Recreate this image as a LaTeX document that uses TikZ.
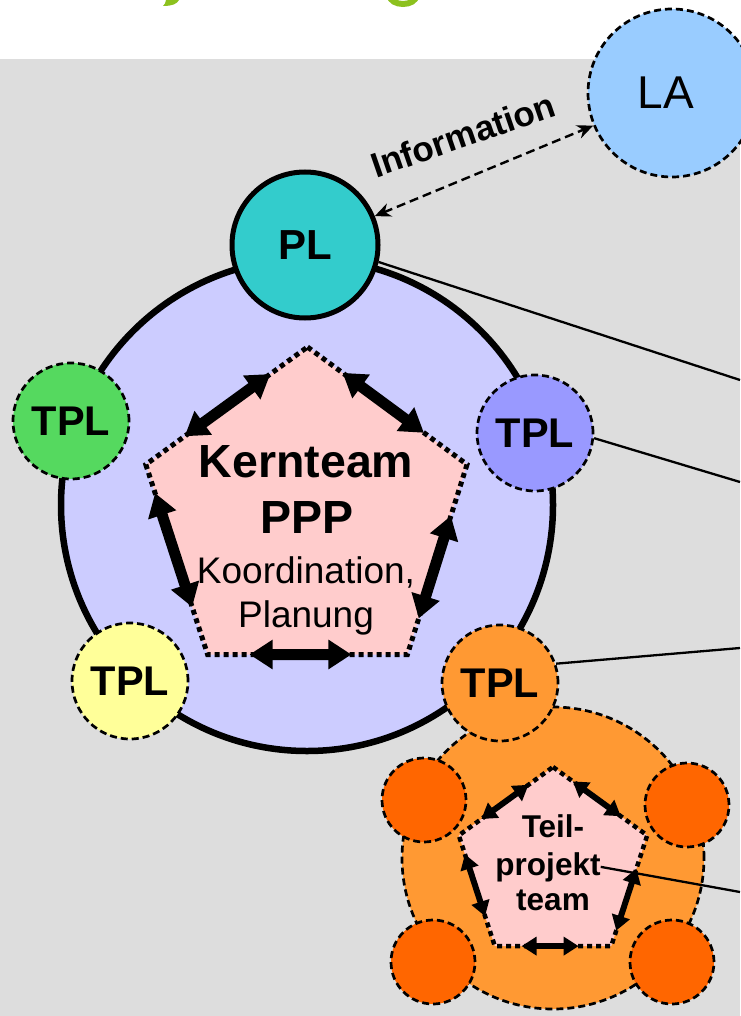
\documentclass[tikz,border=0pt]{standalone}
\usepackage{fontspec}
\setmainfont{Liberation Sans}
\usetikzlibrary{arrows.meta,calc}

\definecolor{panel}{HTML}{DDDDDD}
\definecolor{titlegreen}{HTML}{8CC11E}
\definecolor{lablue}{HTML}{99CCFF}
\definecolor{plcyan}{HTML}{33CCCC}
\definecolor{corelav}{HTML}{CCCCFF}
\definecolor{teampink}{HTML}{FFCCCC}
\definecolor{tplgreen}{RGB}{85,217,95}
\definecolor{tplviolet}{HTML}{9999FF}
\definecolor{tplyellow}{HTML}{FFFF99}
\definecolor{tplorange}{HTML}{FF9933}
\definecolor{subdark}{HTML}{FF6600}

\begin{document}
\begin{tikzpicture}[x=1pt,y=-1pt,
  dashedge/.style={dash pattern=on 7pt off 4pt, line width=2.7pt},
  dotedge/.style={dash pattern=on 5pt off 4pt, line width=5pt},
  member/.style={circle, draw, dashedge, minimum size=116pt, inner sep=0pt,
    font=\fontsize{41.5}{41.5}\selectfont\bfseries},
  subcircle/.style={circle, draw, dashedge, fill=subdark, minimum size=84pt, inner sep=0pt},
  bigarrow/.style={line width=11pt,
    {Triangle[length=23pt,width=28pt]}-{Triangle[length=23pt,width=28pt]}},
  smallarrow/.style={line width=6pt,
    {Triangle[length=15pt,width=18pt]}-{Triangle[length=15pt,width=18pt]}},
  link/.style={line width=2.3pt},
  txt/.style={inner sep=0pt, anchor=base}
]
\useasboundingbox (0,0) rectangle (740,1016);
\fill[white] (0,0) rectangle (740,1016);
\fill[panel] (0,59) rectangle (740,1016);

% descenders of the heading above the panel
\begin{scope}
  \clip (0,0) rectangle (740,59);
  \fill[titlegreen] (166,0) -- (179,0) .. controls (177,4) and (172,6) .. (163,6)
    .. controls (165,4) .. (166,0) -- cycle;
  \draw[titlegreen, line width=6pt] (403,-4) ellipse [x radius=13, y radius=8];
\end{scope}

% core team circle
\node[circle, draw, line width=6.5pt, fill=corelav, minimum size=492pt, inner sep=0pt]
  (core) at (307,505) {};

% core team pentagon
\coordinate (k1) at (307.5,347);
\coordinate (k2) at (467,464.5);
\coordinate (k3) at (407.4,654.5);
\coordinate (k4) at (207.6,654.5);
\coordinate (k5) at (145.8,464.5);
\filldraw[fill=teampink, dotedge] (k1) -- (k2) -- (k3) -- (k4) -- (k5) -- cycle;
\draw[bigarrow] ($(k1)!0.23!(k5)$) -- ($(k1)!0.76!(k5)$);
\draw[bigarrow] ($(k1)!0.22!(k2)$) -- ($(k1)!0.73!(k2)$);
\draw[bigarrow] ($(k2)!0.27!(k3)$) -- ($(k2)!0.81!(k3)$);
\draw[bigarrow] ($(k4)!0.21!(k3)$) -- ($(k4)!0.72!(k3)$);
\draw[bigarrow] ($(k5)!0.15!(k4)$) -- ($(k5)!0.75!(k4)$);

\node[txt, font=\fontsize{46.5}{46.5}\selectfont\bfseries] (kern) at (306,477) {Kernteam};
\node[txt, font=\fontsize{46.5}{46.5}\selectfont\bfseries] (ppp) at (307,533) {PPP};
\node[txt, font=\fontsize{37}{37}\selectfont] (koord) at (306,583) {Koordination,};
\node[txt, font=\fontsize{37}{37}\selectfont] (plan) at (306,627) {Planung};

% sub-project team
\node[circle, draw, dashedge, fill=tplorange, minimum size=302pt, inner sep=0pt]
  (blob) at (553,858) {};
\node[subcircle] (s1) at (424,800) {};
\node[subcircle] (s2) at (687,805) {};
\node[subcircle] (s3) at (433,962) {};
\node[subcircle] (s4) at (672,962) {};

\coordinate (p1) at (553,767);
\coordinate (p2) at (647.2,835.4);
\coordinate (p3) at (611.2,946.1);
\coordinate (p4) at (494.8,946.1);
\coordinate (p5) at (458.8,835.4);
\filldraw[fill=teampink, dotedge, line width=4.5pt] (p1) -- (p2) -- (p3) -- (p4) -- (p5) -- cycle;
\draw[smallarrow] ($(p1)!0.26!(p5)$) -- ($(p1)!0.76!(p5)$);
\draw[smallarrow] ($(p1)!0.21!(p2)$) -- ($(p1)!0.72!(p2)$);
\draw[smallarrow] ($(p2)!0.30!(p3)$) -- ($(p2)!0.86!(p3)$);
\draw[smallarrow] ($(p4)!0.23!(p3)$) -- ($(p4)!0.72!(p3)$);
\draw[smallarrow] ($(p5)!0.17!(p4)$) -- ($(p5)!0.73!(p4)$);

\node[txt, font=\fontsize{31.5}{31.5}\selectfont\bfseries] (teil) at (553,837) {Teil-};
\node[txt, font=\fontsize{31.5}{31.5}\selectfont\bfseries] (proj) at (548,875) {projekt};
\node[txt, font=\fontsize{31.5}{31.5}\selectfont\bfseries] (team) at (553,910) {team};

% leaders and members
\node[circle, draw, line width=5pt, fill=plcyan, minimum size=146pt, inner sep=0pt,
  font=\fontsize{42}{42}\selectfont\bfseries] (PL) at (305,245) {PL};
\node[member, fill=tplgreen] (tplA) at (71,421) {TPL};
\node[member, fill=tplviolet] (tplB) at (535,433) {TPL};
\node[member, fill=tplyellow] (tplC) at (130,681) {TPL};
\node[member, fill=tplorange] (tplD) at (500,683) {TPL};

\node[circle, draw, dashedge, fill=lablue, minimum size=168pt, inner sep=0pt,
  font=\fontsize{46}{46}\selectfont] (LA) at (672,93) {LA\hspace*{12pt}};

% information flow
\draw[dash pattern=on 9pt off 5pt, line width=2.4pt,
  {Stealth[length=16pt,width=14pt]}-{Stealth[length=16pt,width=14pt]}] (PL) -- (LA);
\node[rotate=19, inner sep=0pt, font=\fontsize{35}{35}\selectfont\bfseries]
  (info) at (463,135) {Information};

% leader lines to the right margin
\coordinate (e1) at (740,380);
\coordinate (e2) at (740,482);
\coordinate (e3) at (740,648);
\coordinate (e4) at (740,892);
\draw[link] (PL.-13) -- (e1);
\draw[link] (tplB.-5) -- (e2);
\draw[link] (tplD.19) -- (e3);
\draw[link] (proj.east) -- (e4);
\end{tikzpicture}
\end{document}
